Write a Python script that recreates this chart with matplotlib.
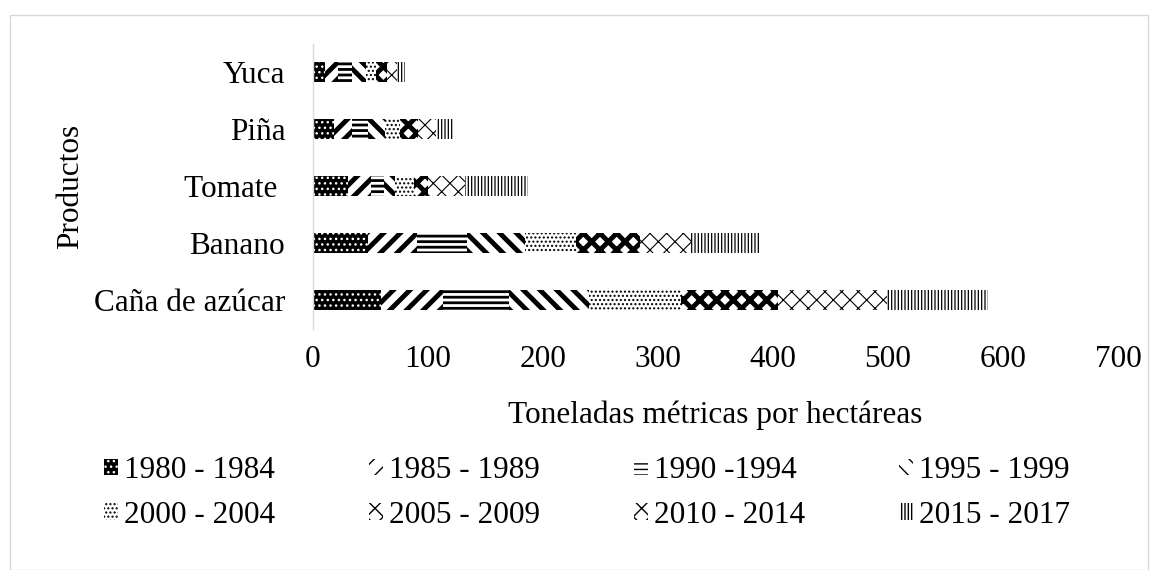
import matplotlib
matplotlib.use("Agg")
import matplotlib.pyplot as plt
from matplotlib.patches import Rectangle
import numpy as np

products = ["Caña de azúcar", "Banano", "Tomate ", "Piña", "Yuca"]
periods = ["1980 - 1984", "1985 - 1989", "1990 -1994", "1995 - 1999",
           "2000 - 2004", "2005 - 2009", "2010 - 2014", "2015 - 2017"]

# values per period, ordered as products
v1980 = [59, 48, 30, 18, 10]
v1985 = [54, 42, 20, 16, 12]
v1990 = [57, 44, 12, 14, 12]
v1995 = [70, 50, 9, 15, 12]
v2000 = [80, 45, 17, 13, 9]
v2005 = [84, 55, 12, 15, 9]
v2010 = [95, 45, 32, 16, 9]
v2015 = [88, 59, 55, 16, 7]
series = [v1980, v1985, v1990, v1995, v2000, v2005, v2010, v2015]

xticks = [0, 100, 200, 300, 400, 500, 600, 700]

# (facecolor, hatchcolor, hatch, hatch linewidth)
styles = [
    ("black", "white", "...", 1.0),
    ("white", "black", "//", 3.5),
    ("white", "black", "---", 2.0),
    ("white", "black", "\\\\", 3.5),
    ("white", "black", "....", 1.0),
    ("white", "black", "xx", 3.5),
    ("white", "black", "xx", 0.8),
    ("white", "black", "|||||", 0.9),
]

plt.rcParams['font.family'] = ['Liberation Serif', 'DejaVu Serif']
fs = 22.5

fig = plt.figure(figsize=(11.5, 5.7), dpi=100)
ax = fig.add_axes([313/1150, 1-328.5/570, (1118-313)/1150, (328.5-43.5)/570])

y = np.arange(len(products))
left = np.zeros(len(products))
handles = []
for vals, lab, (fc, hc, h, hlw) in zip(series, periods, styles):
    with plt.rc_context({'hatch.linewidth': hlw}):
        bars = ax.barh(y, vals, left=left, height=0.35, color=fc,
                       edgecolor=hc, hatch=h, linewidth=0, label=lab)
        for b in bars:
            if hasattr(b, "set_hatch_linewidth"):
                b.set_hatch_linewidth(hlw)
    handles.append(bars)
    left = left + np.array(vals)

ax.set_xlim(0, 700)
ax.set_ylim(-0.5, len(products) - 0.5)
ax.set_xticks(xticks)
ax.set_xticklabels([str(t) for t in xticks], fontsize=fs)
ax.set_yticks(y)
ax.set_yticklabels(products, fontsize=fs)
ax.tick_params(axis='both', length=0)
ax.tick_params(axis='x', pad=12)
ax.tick_params(axis='y', pad=20)
for s in ["top", "right", "bottom"]:
    ax.spines[s].set_visible(False)
ax.spines["left"].set_color("#d9d9d9")
ax.spines["left"].set_linewidth(1.0)
ax.set_xlabel("Toneladas métricas por hectáreas", fontsize=fs, labelpad=19)
ax.set_ylabel("Productos", fontsize=fs, labelpad=6)

# legend laid out row by row (matplotlib fills columns first)
order = [0, 4, 1, 5, 2, 6, 3, 7]
leg = fig.legend(handles=[handles[i] for i in order],
                 labels=[periods[i] for i in order], ncol=4, loc="center",
                 bbox_to_anchor=(587/1150, 1-493/570), frameon=False,
                 fontsize=fs, handlelength=0.45, handleheight=0.45,
                 handletextpad=0.2, columnspacing=3.0, labelspacing=0.5)

fig.patches.append(Rectangle((10/1150, 0), (1148-10)/1150, 1-15/570,
                             transform=fig.transFigure, fill=False,
                             edgecolor="#d9d9d9", linewidth=1.0))

fig.savefig("out.png", dpi=100, facecolor="white")
